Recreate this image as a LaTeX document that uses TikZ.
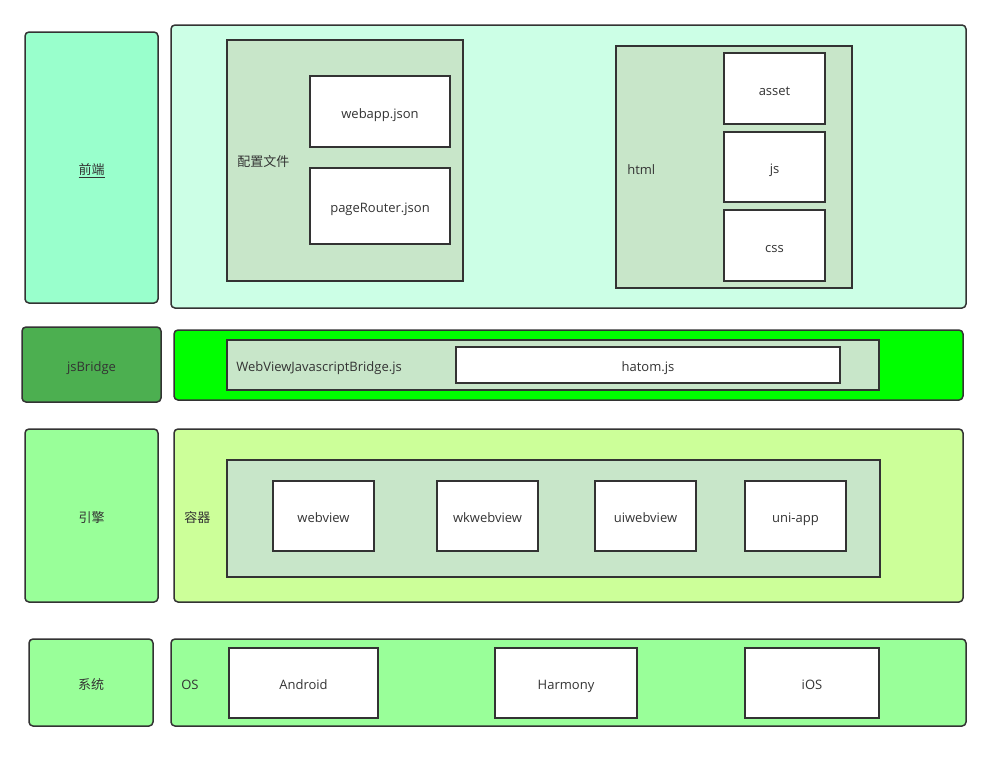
\documentclass[tikz,border=0pt]{standalone}
\usepackage{fontspec}
\setmainfont{Open Sans}
\newfontfamily\cjk{Noto Sans CJK SC}
\usetikzlibrary{fit}
\definecolor{edge}{HTML}{333333}
\definecolor{txt}{HTML}{333333}
\definecolor{mint}{HTML}{99FFCC}
\definecolor{palemint}{HTML}{CCFFE6}
\definecolor{sage}{HTML}{C8E6C9}
\definecolor{midgreen}{HTML}{4CAF50}
\definecolor{lime}{HTML}{00FF00}
\definecolor{lightgreen}{HTML}{99FF99}
\definecolor{yellowgreen}{HTML}{CCFF99}
\tikzset{
  base/.style={draw=edge, line width=1.5pt*0.75, inner sep=0pt},
  rbox/.style={base, rounded corners=3pt},
  sbox/.style={base},
  ctext/.style={label={[text=txt, font=\fontsize{9.75}{11}\selectfont, inner sep=0pt, text height=7.5pt, text depth=2.2pt, yshift=-2.25pt]center:#1}},
  lbl/.style={text=txt, font=\fontsize{9.75}{11}\selectfont, inner sep=0pt, anchor=west, text height=7.5pt, text depth=2.2pt, yshift=-1.6pt},
}
\begin{document}
\begin{tikzpicture}[x=0.75pt,y=-0.75pt]
\useasboundingbox (0,0) rectangle (987,769);
% Frontend
\node[rbox, fill=mint, fit={(25,32) (158,303)}, ctext={\cjk\underline{前端}}] (fe) {};
\node[rbox, fill=palemint, fit={(171,25) (966,308)}] (feC) {};
\node[sbox, fill=sage, fit={(227,40) (463,281)}] (cfg) {};
\node[lbl, font=\fontsize{9.75}{11}\selectfont\cjk] (cfgL) at (237,161) {配置文件};
\node[sbox, fill=white, fit={(310,76) (450,147)}, ctext={webapp.json}] (webapp) {};
\node[sbox, fill=white, fit={(310,168) (450,244)}, ctext={pageRouter.json}] (router) {};
\node[sbox, fill=sage, fit={(616,46) (852,288)}] (html) {};
\node[lbl] (htmlL) at (627,169) {html};
\node[sbox, fill=white, fit={(724,53) (825,124)}, ctext={asset}] (asset) {};
\node[sbox, fill=white, fit={(724,132) (825,202)}, ctext={js}] (js) {};
\node[sbox, fill=white, fit={(724,210) (825,281)}, ctext={css}] (css) {};
% jsBridge
\node[rbox, fill=midgreen, fit={(22,327) (161,402)}, ctext={jsBridge}] (jsb) {};
\node[rbox, fill=lime, fit={(174,330) (963,400)}] (jsbC) {};
\node[sbox, fill=sage, fit={(227,340) (879,390)}] (wvjb) {};
\node[lbl] (wvjbL) at (236,366) {WebViewJavascriptBridge.js};
\node[sbox, fill=white, fit={(456,347) (840,383)}, ctext={hatom.js}] (hatom) {};
% Engine
\node[rbox, fill=lightgreen, fit={(25,429) (158,602)}, ctext={\cjk 引擎}] (eng) {};
\node[rbox, fill=yellowgreen, fit={(174,429) (963,602)}] (engC) {};
\node[lbl, font=\fontsize{9.75}{11}\selectfont\cjk] (contL) at (184,517) {容器};
\node[sbox, fill=sage, fit={(227,460) (880,577)}] (cont) {};
\node[sbox, fill=white, fit={(273,481) (374,551)}, ctext={webview}] (wv) {};
\node[sbox, fill=white, fit={(437,481) (538,551)}, ctext={wkwebview}] (wkwv) {};
\node[sbox, fill=white, fit={(595,481) (696,551)}, ctext={uiwebview}] (uiwv) {};
\node[sbox, fill=white, fit={(745,481) (846,551)}, ctext={uni-app}] (uni) {};
% System
\node[rbox, fill=lightgreen, fit={(29,639) (153,726)}, ctext={\cjk 系统}] (sys) {};
\node[rbox, fill=lightgreen, fit={(171,639) (966,726)}] (os) {};
\node[lbl] (osL) at (181,684) {OS};
\node[sbox, fill=white, fit={(229,648) (378,718)}, ctext={Android}] (android) {};
\node[sbox, fill=white, fit={(495,648) (637,718)}, ctext={Harmony}] (harmony) {};
\node[sbox, fill=white, fit={(745,648) (879,718)}, ctext={iOS}] (ios) {};
\end{tikzpicture}
\end{document}
